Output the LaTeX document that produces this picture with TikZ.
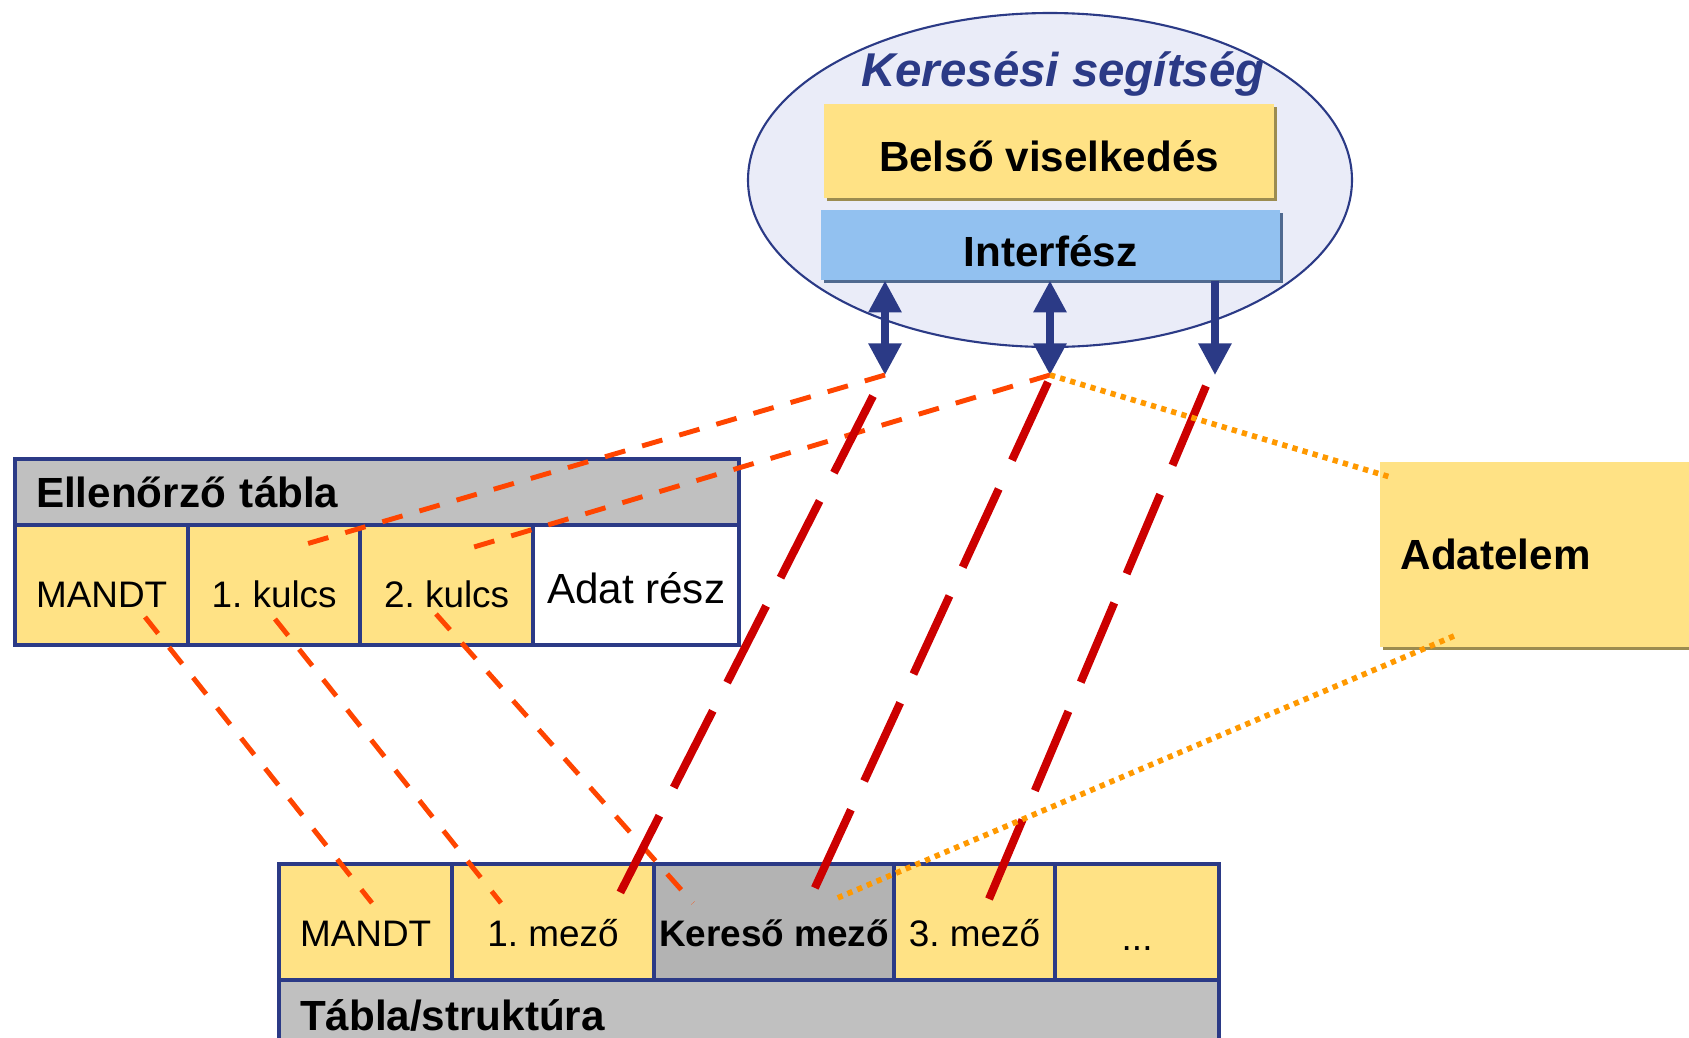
\documentclass[tikz,border=0pt]{standalone}
\usepackage{fontspec}
\setmainfont{Liberation Sans}
\usetikzlibrary{arrows.meta,shapes.geometric,shadows}
\frenchspacing

\definecolor{sapblue}{HTML}{2B3A86}
\definecolor{cellyellow}{HTML}{FFE285}
\definecolor{ifaceblue}{HTML}{92C1F0}
\definecolor{helpfill}{HTML}{EAECF8}
\definecolor{headgray}{HTML}{C0C0C0}
\definecolor{searchgray}{HTML}{B3B3B3}
\definecolor{yshadow}{HTML}{9C8C50}
\definecolor{bshadow}{HTML}{506A90}
\definecolor{keyred}{HTML}{FF4500}
\definecolor{fieldred}{HTML}{CC0000}
\definecolor{elemorange}{HTML}{FF9900}

\begin{document}
\begin{tikzpicture}[x=0.1mm,y=-0.1mm,
    cell/.style={draw=sapblue,line width=1.2pt,fill=cellyellow,anchor=north west,
      inner sep=0pt,text height=13pt,text depth=0pt,font=\fontsize{10.5}{12}\selectfont},
    header/.style={draw=sapblue,line width=1.2pt,fill=headgray,anchor=north west,
      inner xsep=2.1mm,inner ysep=0pt,align=left,font=\fontsize{12}{14}\selectfont\bfseries},
    boxtext/.style={inner sep=0pt,text depth=0pt,font=\fontsize{12}{14}\selectfont\bfseries},
    keyline/.style={keyred,line width=1.4pt,dash pattern=on 6pt off 5pt},
    fieldline/.style={fieldred,line width=2.3pt,dash pattern=on 24.5pt off 9pt},
    elemline/.style={elemorange,line width=1.6pt,dash pattern=on 1.5pt off 1.5pt},
    ifacearrow/.style={sapblue,line width=2pt}]
  \useasboundingbox (0,0) rectangle (1689,1038);

  % search help
  \node [ellipse,draw=sapblue,line width=0.6pt,fill=helpfill,minimum width=60.4mm,minimum height=33.4mm] (help) at (1050,180) {};
  \node [anchor=base,text=sapblue,font=\fontsize{13.5}{16}\selectfont\bfseries\itshape] (helptitle) at (1063,86) {Keresési segítség};
  \node [boxtext,fill=cellyellow,text height=11.5pt,minimum width=45mm,minimum height=9.4mm,
    drop shadow={shadow xshift=0.9pt,shadow yshift=-0.9pt,fill=yshadow,opacity=1}] (inner) at (1049,151) {Belső viselkedés};
  \node [boxtext,fill=ifaceblue,text height=12pt,minimum width=45.9mm,minimum height=7mm,
    drop shadow={shadow xshift=0.9pt,shadow yshift=-0.9pt,fill=bshadow,opacity=1}] (iface) at (1050.5,245) {Interfész};

  \coordinate (tip1) at (885,375);
  \coordinate (tip2) at (1050,375);
  \coordinate (tip3) at (1215,375);
  \draw [ifacearrow,{Triangle[width=9pt,length=9pt]}-{Triangle[width=9pt,length=9pt]}] (iface.south -| tip1) -- (tip1);
  \draw [ifacearrow,{Triangle[width=9pt,length=9pt]}-{Triangle[width=9pt,length=9pt]}] (iface.south -| tip2) -- (tip2);
  \draw [ifacearrow,-{Triangle[width=9pt,length=9pt]}] (iface.south -| tip3) -- (tip3);

  % check table
  \node [header,text width=68.2mm,minimum height=6.6mm] (chkhead) at (13,457) {Ellenőrző tábla};
  \node [cell,minimum width=17.3mm,minimum height=12mm] (chkmandt) at (13,523) {MANDT};
  \node [cell,minimum width=17.2mm,minimum height=12mm] (chkkey1) at (186,523) {1. kulcs};
  \node [cell,minimum width=17.3mm,minimum height=12mm] (chkkey2) at (358,523) {2. kulcs};
  \node [cell,fill=white,minimum width=20.6mm,minimum height=12mm,text height=10.5pt,font=\fontsize{12}{14}\selectfont] (chkdata) at (531,523) {Adat rész};

  % table / structure
  \node [cell,minimum width=17.3mm,minimum height=11.6mm,text height=14pt] (tabmandt) at (277,862) {MANDT};
  \node [cell,minimum width=20.2mm,minimum height=11.6mm,text height=14pt] (tabfield1) at (450,862) {1. mező};
  \node [cell,fill=searchgray,minimum width=24mm,minimum height=11.6mm,text height=14pt,font=\fontsize{10.5}{12}\selectfont\bfseries] (tabsearch) at (652,862) {Kereső mező};
  \node [cell,minimum width=16.1mm,minimum height=11.6mm,text height=14pt] (tabfield3) at (892,862) {3. mező};
  \node [cell,minimum width=16.4mm,minimum height=11.6mm,text height=16pt] (tabmore) at (1053,862) {...};
  \node [header,text width=89.8mm,minimum height=7mm] (tabhead) at (277,978) {Tábla/struktúra};

  % data element
  \node [fill=cellyellow,anchor=north west,text width=35mm,minimum height=18.5mm,inner xsep=2.1mm,align=left,
    font=\fontsize{12}{14}\selectfont\bfseries,
    drop shadow={shadow xshift=1pt,shadow yshift=-1pt,fill=yshadow,opacity=1}] (elem) at (1379,461) {Adatelem};

  % key links
  \coordinate (key1in) at (296,547);
  \coordinate (key2in) at (474,547);
  \draw [keyline] (tip1) -- (key1in);
  \draw [keyline] (tip2) -- (key2in);
  \coordinate (mandtup) at (145,617);
  \coordinate (mandtdown) at (372,903);
  \coordinate (key1up) at (275,619);
  \coordinate (key1down) at (501,903);
  \coordinate (key2up) at (436,614);
  \coordinate (key2down) at (693,903);
  \draw [keyline] (mandtup) -- (mandtdown);
  \draw [keyline] (key1up) -- (key1down);
  \draw [keyline] (key2up) -- (key2down);

  % field links
  \coordinate (field1up) at (873,396);
  \coordinate (field1down) at (617,899);
  \coordinate (field2up) at (1048,382);
  \coordinate (field2down) at (813,892);
  \coordinate (field3up) at (1206,386);
  \coordinate (field3down) at (989,899);
  \draw [fieldline] (field1up) -- (field1down);
  \draw [fieldline] (field2up) -- (field2down);
  \draw [fieldline] (field3up) -- (field3down);

  % data element links
  \coordinate (elemup) at (1390,477);
  \coordinate (elemdown) at (1454,636);
  \coordinate (searchin) at (835,899);
  \draw [elemline] (tip2) -- (elemup);
  \draw [elemline] (elemdown) -- (searchin);
\end{tikzpicture}
\end{document}
